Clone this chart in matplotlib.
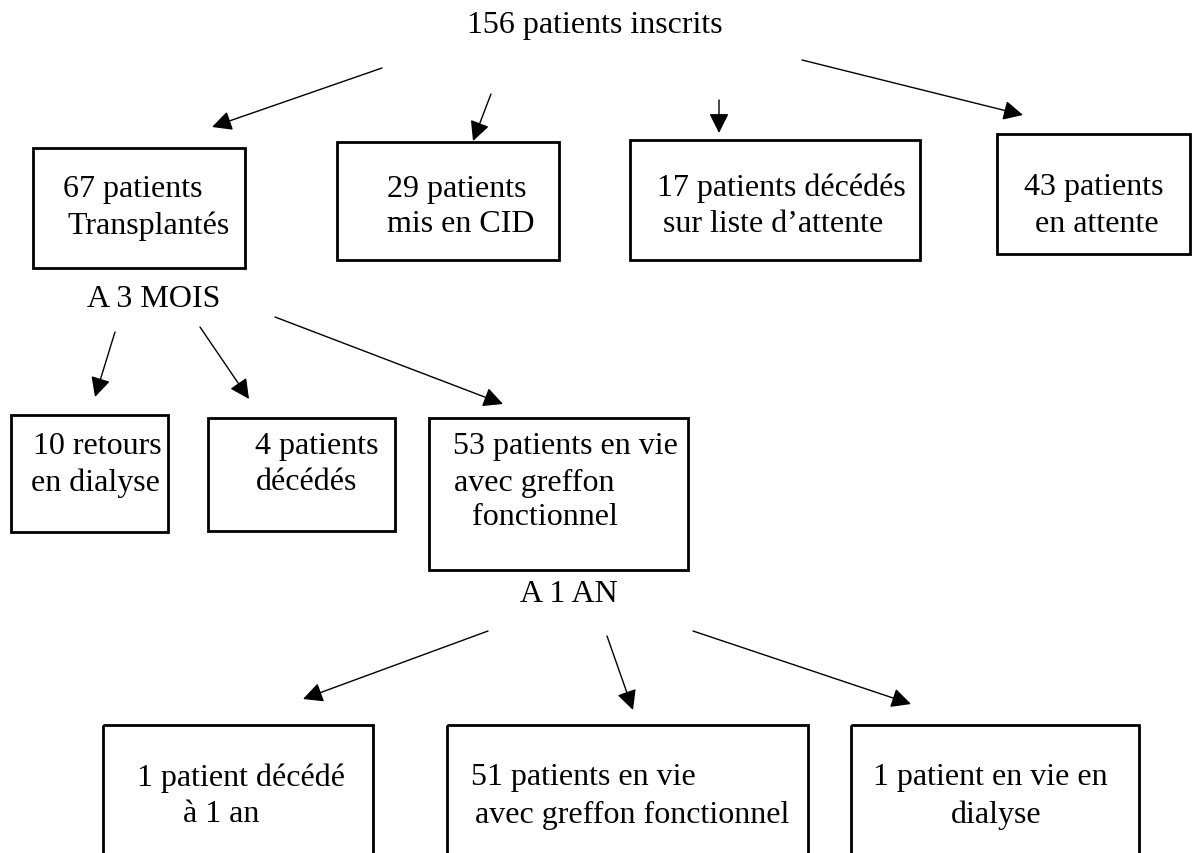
import matplotlib
matplotlib.use('Agg')
import matplotlib.pyplot as plt
from matplotlib.patches import Rectangle

plt.rcParams['font.family'] = ['Liberation Serif', 'DejaVu Serif']

# Textes du diagramme (effectifs)
titre = "156 patients inscrits"
etape_3mois = "A 3 MOIS"
etape_1an = "A 1 AN"

niveau1 = [["67 patients", "Transplantés"],
           ["29 patients", "mis en CID"],
           ["17 patients décédés", "sur liste d\u2019attente"],
           ["43 patients", "en attente"]]
niveau2 = [["10 retours", "en dialyse"],
           ["4 patients", "décédés"],
           ["53 patients en vie", "avec greffon", "fonctionnel"]]
niveau3 = [["1 patient décédé", "à 1 an"],
           ["51 patients en vie", "avec greffon fonctionnel"],
           ["1 patient en vie en", "dialyse"]]

# Mise en page (pixels, origine en haut a gauche)
boites1 = [(33, 149, 245, 269), (337, 143, 559, 261), (630, 141, 920, 261), (997, 135, 1190, 255)]
textes1 = [[(63, 189), (67, 226)], [(387, 189), (387, 225)],
           [(657, 188), (663, 225)], [(1024, 188), (1035, 225)]]
boites2 = [(11, 416, 168, 533), (208, 419, 395, 532), (429, 419, 688, 571)]
textes2 = [[(33, 447), (31, 483)], [(255, 447), (256, 483)],
           [(453, 447), (454, 483), (472, 518)]]
boites3 = [(103, 726, 373, 880), (447, 726, 808, 880), (851, 726, 1139, 880)]
textes3 = [[(137, 778), (183, 815)], [(471, 778), (475, 815)], [(873, 778), (951, 815)]]

fleches = [((382, 69), (212, 128)), ((491, 95), (473, 142)), ((719, 101), (719, 134)),
           ((802, 61), (1023, 116)),
           ((115, 333), (95, 398)), ((200, 328), (249, 400)), ((275, 318), (503, 405)),
           ((488, 632), (303, 700)), ((607, 637), (633, 711)), ((693, 632), (911, 705))]

W, H = 1192, 854
fig = plt.figure(figsize=(W / 100, H / 100), dpi=100)
ax = fig.add_axes([0, 0, 1, 1])
ax.set_xlim(0, W)
ax.set_ylim(H, 0)
ax.axis('off')

fs = 23

def dessine(boites, labels, positions):
    for (x0, y0, x1, y1), lignes, pos in zip(boites, labels, positions):
        ax.add_patch(Rectangle((x0, y0), x1 - x0, y1 - y0, fill=False,
                               edgecolor='black', lw=2.0))
        for txt, (x, y) in zip(lignes, pos):
            ax.text(x, y, txt, fontsize=fs, ha='left', va='center')

dessine(boites1, niveau1, textes1)
dessine(boites2, niveau2, textes2)
dessine(boites3, niveau3, textes3)

ax.text(595, 25, titre, fontsize=fs, ha='center', va='center')
ax.text(87, 300, etape_3mois, fontsize=fs, ha='left', va='center')
ax.text(520, 595, etape_1an, fontsize=fs, ha='left', va='center')

for debut, fin in fleches:
    ax.annotate('', xy=fin, xytext=debut,
                arrowprops=dict(arrowstyle='-|>', color='black', lw=1.0,
                                mutation_scale=30, shrinkA=0, shrinkB=0))

plt.savefig('out.png', dpi=100)
